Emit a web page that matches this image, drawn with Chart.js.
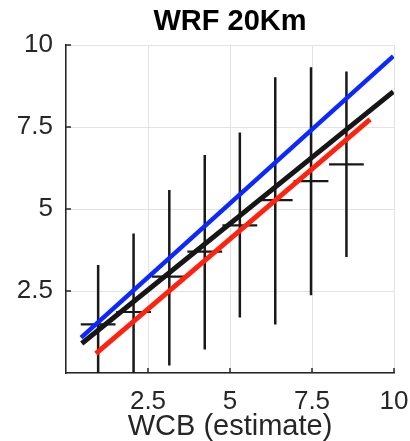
<!DOCTYPE html>
<html>
<head>
<meta charset="utf-8">
<script src="https://cdn.jsdelivr.net/npm/chart.js@4.4.1/dist/chart.umd.min.js"></script>
<style>
    body { margin: 0; background: #ffffff; }
    #wrap { width: 410px; height: 441px; }
</style>
</head>
<body>
<div id="wrap"><canvas id="wrf-chart" width="410" height="441"></canvas></div>
<script>
// binned WCB estimate against WRF 20Km, with the spread in each bin
const bin_centres = [0.98, 2.06, 3.15, 4.23, 5.30, 6.38, 7.47, 8.55];
const bin_half_width = [0.53, 0.53, 0.53, 0.53, 0.53, 0.53, 0.53, 0.53];
const bin_means = [1.48, 1.86, 2.94, 3.70, 4.50, 5.27, 5.85, 6.36];
const bin_low = [-1.0, -0.6, 0.23, 0.72, 1.69, 1.48, 2.37, 3.54];
const bin_high = [3.29, 4.25, 5.58, 6.65, 7.33, 9.02, 9.32, 9.19];

// fitted lines (end points)
const blue_fit_x = [0.46, 9.98];
const blue_fit_y = [1.08, 9.66];
const black_fit_x = [0.48, 9.98];
const black_fit_y = [0.90, 8.58];
const red_fit_x = [0.91, 9.27];
const red_fit_y = [0.59, 7.73];

const tick_values = [2.5, 5, 7.5, 10];
const tick_labels = ["2.5", "5", "7.5", "10"];

const font_family = "'Liberation Sans', Arial, Helvetica, sans-serif";
const axis_colour = '#262626';

function toPoints(xs, ys) {
    let pts = [];
    for (let i = 0; i < xs.length; i++) {
        pts.push({x: xs[i], y: ys[i]});
    }
    return pts;
}

// vertical whiskers, separated by gaps
let whisker_points = [];
for (let i = 0; i < bin_centres.length; i++) {
    whisker_points.push({x: bin_centres[i], y: bin_low[i]});
    whisker_points.push({x: bin_centres[i], y: bin_high[i]});
    whisker_points.push({x: bin_centres[i], y: null});
}

// horizontal bars at the bin means
let mean_points = [];
for (let i = 0; i < bin_centres.length; i++) {
    mean_points.push({x: bin_centres[i] - bin_half_width[i], y: bin_means[i]});
    mean_points.push({x: bin_centres[i] + bin_half_width[i], y: bin_means[i]});
    mean_points.push({x: bin_centres[i] + bin_half_width[i], y: null});
}

function tickText(value) {
    let idx = tick_values.indexOf(value);
    return idx >= 0 ? tick_labels[idx] : '';
}

// small inward tick marks on the two axes
const innerTicks = {
    id: 'innerTicks',
    afterDraw(chart) {
        const ctx = chart.ctx;
        const xs = chart.scales.x;
        const ys = chart.scales.y;
        const area = chart.chartArea;
        ctx.save();
        ctx.strokeStyle = axis_colour;
        ctx.lineWidth = 1.5;
        ctx.beginPath();
        tick_values.forEach(function(v) {
            let px = xs.getPixelForValue(v);
            ctx.moveTo(px, area.bottom);
            ctx.lineTo(px, area.bottom - 5);
            let py = ys.getPixelForValue(v);
            ctx.moveTo(area.left, py);
            ctx.lineTo(area.left + 5, py);
        });
        ctx.stroke();
        ctx.restore();
    }
};

let line_style = {
    showLine: true,
    fill: false,
    pointRadius: 0,
    tension: 0,
    spanGaps: false
};

let config = {
    type: 'scatter',
    data: {
        datasets: [
            Object.assign({label: 'blue fit', data: toPoints(blue_fit_x, blue_fit_y), borderColor: 'rgb(10, 40, 255)', borderWidth: 4.5}, line_style),
            Object.assign({label: 'black fit', data: toPoints(black_fit_x, black_fit_y), borderColor: 'rgb(22, 22, 22)', borderWidth: 5}, line_style),
            Object.assign({label: 'red fit', data: toPoints(red_fit_x, red_fit_y), borderColor: 'rgb(255, 35, 15)', borderWidth: 5}, line_style),
            Object.assign({label: 'means', data: mean_points, borderColor: 'rgb(25, 25, 25)', borderWidth: 2.2}, line_style),
            Object.assign({label: 'range', data: whisker_points, borderColor: 'rgb(25, 25, 25)', borderWidth: 2.5}, line_style)
        ]
    },
    options: {
        responsive: false,
        animation: false,
        layout: { padding: { left: 0, right: 16, top: 0, bottom: 0 } },
        plugins: {
            legend: { display: false },
            tooltip: { enabled: false },
            title: {
                display: true,
                fullSize: false,
                text: 'WRF 20Km',
                color: '#000000',
                font: { family: font_family, size: 29, weight: 'bold' },
                padding: { top: 5, bottom: 5.2 }
            }
        },
        scales: {
            x: {
                type: 'linear',
                min: 0,
                max: 10,
                afterFit: function(scale) {
                    scale.height = 68;
                    // let the "10" label run into the right margin
                    scale.paddingLeft = 0;
                    scale.paddingRight = 0;
                },
                ticks: {
                    stepSize: 2.5,
                    autoSkip: false,
                    maxRotation: 0,
                    padding: 13,
                    color: axis_colour,
                    font: { family: font_family, size: 26 },
                    callback: tickText
                },
                grid: { color: '#e3e3e3', lineWidth: 1, drawTicks: false },
                border: { color: axis_colour, width: 1.5 },
                title: {
                    display: true,
                    text: 'WCB (estimate)',
                    color: axis_colour,
                    font: { family: font_family, size: 29, lineHeight: 1 },
                    padding: { top: 0, bottom: 0 }
                }
            },
            y: {
                type: 'linear',
                min: 0,
                max: 10,
                afterFit: function(scale) {
                    scale.width = 66;
                    scale.paddingTop = 0;
                    scale.paddingBottom = 0;
                },
                ticks: {
                    stepSize: 2.5,
                    autoSkip: false,
                    padding: 13,
                    color: axis_colour,
                    font: { family: font_family, size: 26 },
                    callback: tickText
                },
                grid: { color: '#e3e3e3', lineWidth: 1, drawTicks: false },
                border: { color: axis_colour, width: 1.5 }
            }
        }
    },
    plugins: [innerTicks]
};

let wrf_chart = new Chart(document.getElementById('wrf-chart'), config);
</script>
</body>
</html>
